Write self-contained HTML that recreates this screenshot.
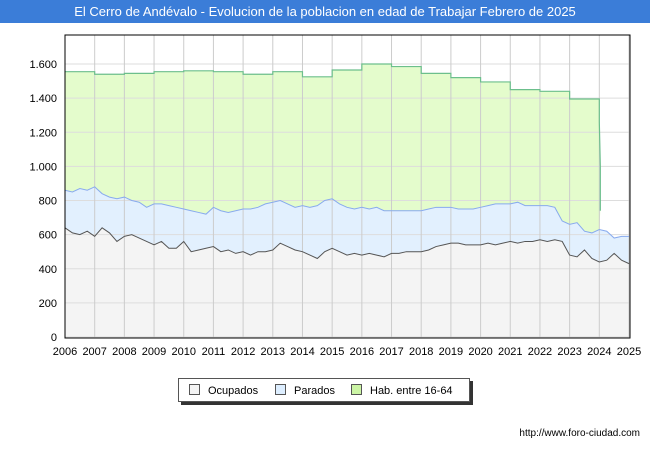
<!DOCTYPE html>
<html><head><meta charset="utf-8"><style>
body{margin:0;width:650px;height:450px;background:#fff;font-family:"Liberation Sans","DejaVu Sans",sans-serif;position:relative;overflow:hidden}
#title{position:absolute;left:0;top:0;width:650px;height:23px;background:#3b7dd8;color:#fff;font-size:13px;line-height:23px;text-align:center}
#legend{position:absolute;left:178px;top:378px;width:290px;height:22px;border:1px solid #555;box-shadow:3px 3px 0 #333;background:#fff;font-size:11px}
.li{position:absolute;top:5px}
.sw{display:inline-block;width:9px;height:9px;border:1px solid #555;margin-right:8px;vertical-align:-1px}
#url{position:absolute;right:10px;top:428px;font-size:10px}
</style></head><body>
<div id="title">El Cerro de Andévalo - Evolucion de la poblacion en edad de Trabajar Febrero de 2025</div>
<svg id="chart" width="650" height="450" style="position:absolute;left:0;top:0;top:0"></svg>
<div id="legend">
<span class="li" style="left:10px"><span class="sw" style="background:#f4f4f4"></span>Ocupados</span>
<span class="li" style="left:96px"><span class="sw" style="background:#ddeeff"></span>Parados</span>
<span class="li" style="left:172px"><span class="sw" style="background:#ccf5a5"></span>Hab. entre 16-64</span>
</div>
<div id="url">http://www.foro-ciudad.com</div>
<script>
const years=[2006,2007,2008,2009,2010,2011,2012,2013,2014,2015,2016,2017,2018,2019,2020,2021,2022,2023,2024,2025];
const yTicks=[0,200,400,600,800,1000,1200,1400,1600];
const habValues=[1555,1540,1545,1555,1560,1555,1540,1555,1525,1565,1600,1585,1545,1520,1495,1450,1440,1395];
const ocupados=[640,610,600,620,590,640,610,560,590,600,580,560,540,560,520,520,560,500,510,520,530,500,510,490,500,480,500,500,510,550,530,510,500,480,460,500,520,500,480,490,480,490,480,470,490,490,500,500,500,510,530,540,550,550,540,540,540,550,540,550,560,550,560,560,570,560,570,560,480,470,510,460,440,450,490,450,430];
const parados=[860,850,870,860,880,840,820,810,820,800,790,760,780,780,770,760,750,740,730,720,760,740,730,740,750,750,760,780,790,800,780,760,770,760,770,800,810,780,760,750,760,750,760,740,740,740,740,740,740,750,760,760,760,750,750,750,760,770,780,780,780,790,770,770,770,770,760,680,660,670,620,610,630,620,580,590,590];
const svg=document.getElementById('chart');const NS='http://www.w3.org/2000/svg';
const X0=65,X1=629,Y0=337,YT=35;
const xs=t=>X0+(t-2006)*(X1-X0)/19;
const ys=v=>Y0-v*273/1600;
function mk(tag,attrs){const e=document.createElementNS(NS,tag);for(const k in attrs)e.setAttribute(k,attrs[k]);svg.appendChild(e);return e;}
let bg=mk('rect',{x:X0,y:YT,width:X1-X0,height:Y0-YT,fill:'#fff'});


// hab path
let hp=[];habValues.forEach((v,i)=>{hp.push([xs(years[i]),ys(v)]);hp.push([xs(years[i]+1),ys(v)]);});
const lastX=xs(2024);
let hd='M'+hp.map(p=>p.join(',')).join(' L')+' L'+lastX+','+ys(1260)+' L'+(lastX+1)+','+ys(1000)+' L'+(lastX+1)+','+ys(740);
const tOf=i=>2006+i*0.25;
// green area: from hab line down to parados line until 2024
let pidxEnd=72;
let gd=hd;for(let i=pidxEnd;i>=0;i--)gd+=' L'+xs(tOf(i))+','+ys(parados[i]);gd+='Z';
let g=mk('path',{d:gd,fill:'#e4fccc',stroke:'none'});


let bd='M'+parados.map((v,i)=>xs(tOf(i))+','+ys(v)).join(' L');
let bd2=bd;for(let i=ocupados.length-1;i>=0;i--)bd2+=' L'+xs(tOf(i))+','+ys(ocupados[i]);bd2+='Z';
let b=mk('path',{d:bd2,fill:'#e2f0fe',stroke:'none'});


let od='M'+ocupados.map((v,i)=>xs(tOf(i))+','+ys(v)).join(' L');
let o=mk('path',{d:od+' L'+xs(tOf(ocupados.length-1))+','+Y0+' L'+X0+','+Y0+'Z',fill:'#f4f4f4',stroke:'none'});


yTicks.forEach(v=>{let l=mk('line',{x1:X0,x2:X1,y1:ys(v),y2:ys(v),stroke:'#ddd'});


let t=mk('text',{x:57,y:ys(v)+4,'text-anchor':'end','font-size':11});t.textContent=v.toLocaleString('de-DE');

});
years.forEach(yr=>{let l=mk('line',{x1:xs(yr),x2:xs(yr),y1:YT,y2:Y0,stroke:'#ccc'});


let t=mk('text',{x:xs(yr),y:355,'text-anchor':'middle','font-size':11});t.textContent=yr;

});
let hl=mk('path',{d:hd,fill:'none',stroke:'#6cbf8c','stroke-width':1.2});


let bl=mk('path',{d:bd,fill:'none',stroke:'#88aaee','stroke-width':1});


let ol=mk('path',{d:od,fill:'none',stroke:'#555','stroke-width':1});


let fr=mk('rect',{x:X0,y:YT,width:X1+1-X0,height:Y0+1-YT,fill:'none',stroke:'#000'});


</script>
</body></html>
